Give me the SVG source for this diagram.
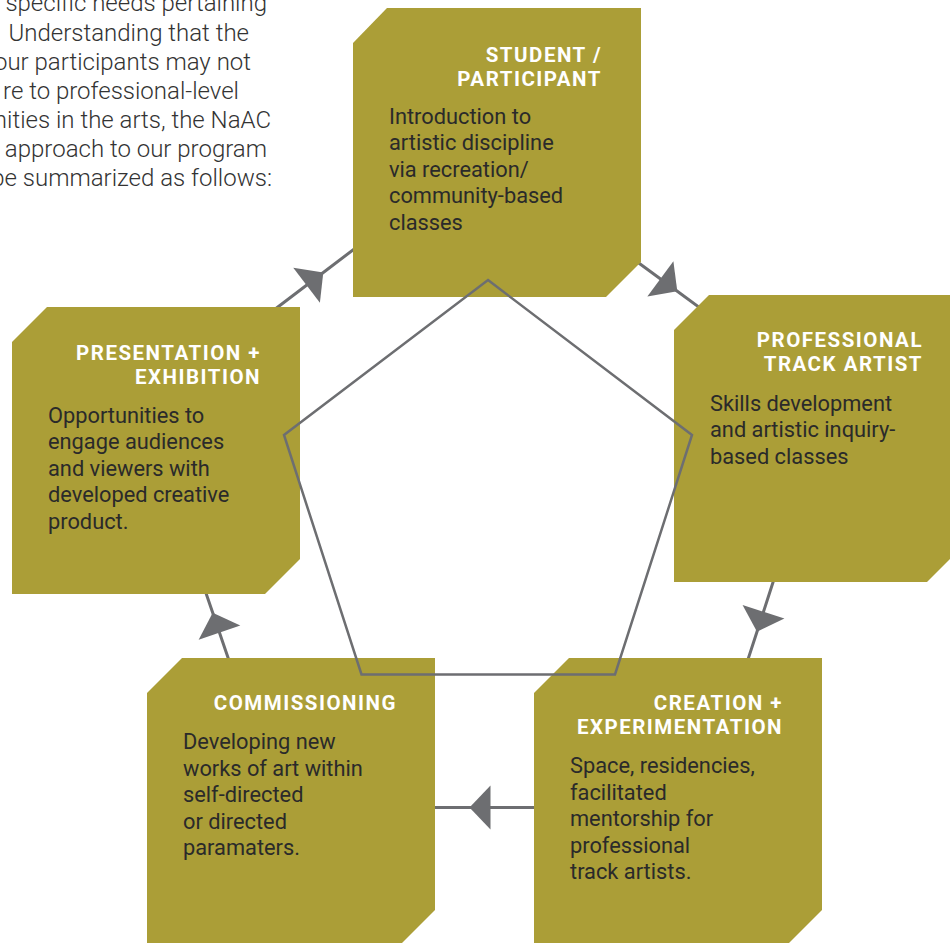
<svg xmlns="http://www.w3.org/2000/svg" width="950" height="943" viewBox="0 0 950 943">
<style>
.node{fill:#ab9e37}
.ttl{font-family:Roboto,"Liberation Sans",sans-serif;font-weight:700;font-size:20.5px;fill:#ffffff;letter-spacing:1.5px;text-anchor:end}
.body{font-family:Roboto,"Liberation Sans",sans-serif;font-size:21.8px;fill:#2a2a2a}
.intro{font-family:Roboto,"Liberation Sans",sans-serif;font-weight:300;font-size:24px;fill:#333333;text-anchor:end}
.conn{fill:none;stroke:#6d6e71;stroke-width:3;marker-mid:url(#arrow)}
.pent{fill:none;stroke:#6d6e71;stroke-width:2.5;stroke-linejoin:miter}
</style>
<defs>
<marker id="arrow" markerUnits="userSpaceOnUse" viewBox="-22 -23 23 46" refX="0" refY="0" markerWidth="23" markerHeight="46" orient="auto">
<path d="M-21,-22 L0,0 L-21,22 Z" fill="#6d6e71"/>
</marker>
</defs>
<rect width="950" height="943" fill="#ffffff"/>
<g id="intro-text">
<text class="intro" x="267" y="11">specific needs pertaining</text>
<text class="intro" x="249" y="40.5">Understanding that the</text>
<text class="intro" x="251" y="69.5">our participants may not</text>
<text class="intro" x="239" y="98.5">re to professional-level</text>
<text class="intro" x="271" y="127.5">nities in the arts, the NaAC</text>
<text class="intro" x="267" y="156.5">approach to our program</text>
<text class="intro" x="272" y="185.5">be summarized as follows:</text>
</g>
<g id="connectors">
<path class="conn" d="M270.3,312.8 L323.3,272.5 L357.9,246.2"/>
<path class="conn" d="M630.2,256.8 L677.3,291.3 L710.8,315.9"/>
<path class="conn" d="M777.3,569 L757,631.7 L741.8,678.4"/>
<path class="conn" d="M545,807.5 L469.5,807.5 L425,807.5"/>
<path class="conn" d="M233.1,672.5 L212.7,612.7 L199.2,573.2"/>
</g>
<g id="node-student">
<path class="node" d="M387,8 H641 V262 L606,297 H353 V43 Z"/>
<text class="ttl" x="602" y="61.5">STUDENT /</text>
<text class="ttl" x="602" y="85.5">PARTICIPANT</text>
<text class="body" x="389" y="123.5">Introduction to</text>
<text class="body" x="389" y="150">artistic discipline</text>
<text class="body" x="389" y="176.5">via recreation/</text>
<text class="body" x="389" y="203">community-based</text>
<text class="body" x="389" y="229.5">classes</text>
</g>
<g id="node-professional">
<path class="node" d="M709,295 H962 V547 L927,582 H674 V330 Z"/>
<text class="ttl" x="923" y="347">PROFESSIONAL</text>
<text class="ttl" x="923" y="371">TRACK ARTIST</text>
<text class="body" x="710" y="410.5">Skills development</text>
<text class="body" x="710" y="437">and artistic inquiry-</text>
<text class="body" x="710" y="463.5">based classes</text>
</g>
<g id="node-creation">
<path class="node" d="M569,658 H822 V910 L787,945 H534 V693 Z"/>
<text class="ttl" x="783" y="709.5">CREATION +</text>
<text class="ttl" x="783" y="733.5">EXPERIMENTATION</text>
<text class="body" x="570" y="773">Space, residencies,</text>
<text class="body" x="570" y="799.5">facilitated</text>
<text class="body" x="570" y="826">mentorship for</text>
<text class="body" x="570" y="852.5">professional</text>
<text class="body" x="570" y="879">track artists.</text>
</g>
<g id="node-commissioning">
<path class="node" d="M182,658 H435 V910 L400,945 H147 V693 Z"/>
<text class="ttl" x="397" y="709.5">COMMISSIONING</text>
<text class="body" x="183" y="749">Developing new</text>
<text class="body" x="183" y="775.5">works of art within</text>
<text class="body" x="183" y="802">self-directed</text>
<text class="body" x="183" y="828.5">or directed</text>
<text class="body" x="183" y="855">paramaters.</text>
</g>
<g id="node-presentation">
<path class="node" d="M47,307 H300 V559 L265,594 H12 V342 Z"/>
<text class="ttl" x="261" y="359.5">PRESENTATION +</text>
<text class="ttl" x="261" y="383.5">EXHIBITION</text>
<text class="body" x="48" y="422.5">Opportunities to</text>
<text class="body" x="48" y="449">engage audiences</text>
<text class="body" x="48" y="475.5">and viewers with</text>
<text class="body" x="48" y="502">developed creative</text>
<text class="body" x="48" y="528.5">product.</text>
</g>
<g id="cycle-pentagon">
<polygon class="pent" points="488,280 692,435 615,674.5 361.5,674.5 284,435"/>
</g>
</svg>
